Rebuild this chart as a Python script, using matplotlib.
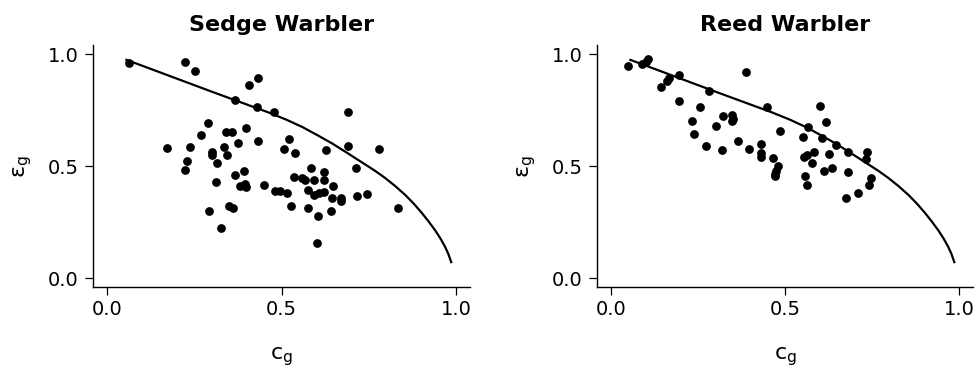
import matplotlib
matplotlib.use("Agg")
import matplotlib.pyplot as plt

plt.rcParams['font.family'] = ['DejaVu Sans']
plt.rcParams['mathtext.fontset'] = 'dejavusans'
plt.rcParams['mathtext.default'] = 'regular'

# Sedge warbler: (c_g, eps_g) per bird
sedge_c = [0.061, 0.224, 0.251, 0.431, 0.405, 0.366, 0.428, 0.479, 0.290, 0.341,
           0.358, 0.399, 0.270, 0.431, 0.374, 0.520, 0.506, 0.172, 0.238, 0.300,
           0.300, 0.336, 0.343, 0.228, 0.223, 0.314, 0.393, 0.365, 0.312, 0.381,
           0.394, 0.398, 0.450, 0.482, 0.494, 0.515, 0.527, 0.350, 0.360, 0.293,
           0.327, 0.690, 0.691, 0.780, 0.627, 0.539, 0.712, 0.584, 0.620, 0.534,
           0.557, 0.568, 0.594, 0.620, 0.648, 0.575, 0.592, 0.606, 0.621, 0.645,
           0.669, 0.671, 0.716, 0.746, 0.575, 0.603, 0.641, 0.834, 0.601]
sedge_eps = [0.960, 0.963, 0.924, 0.891, 0.863, 0.795, 0.764, 0.742, 0.691, 0.652,
             0.652, 0.672, 0.639, 0.612, 0.604, 0.619, 0.575, 0.582, 0.587, 0.563,
             0.552, 0.585, 0.548, 0.522, 0.482, 0.512, 0.477, 0.460, 0.431, 0.413,
             0.422, 0.406, 0.418, 0.388, 0.388, 0.381, 0.324, 0.324, 0.313, 0.298,
             0.224, 0.742, 0.592, 0.578, 0.571, 0.560, 0.491, 0.490, 0.476, 0.451,
             0.448, 0.437, 0.437, 0.437, 0.410, 0.395, 0.372, 0.381, 0.386, 0.358,
             0.358, 0.346, 0.369, 0.376, 0.313, 0.279, 0.298, 0.312, 0.159]

# Reed warbler
reed_c = [0.047, 0.088, 0.099, 0.107, 0.195, 0.167, 0.161, 0.144, 0.388, 0.280,
          0.196, 0.255, 0.448, 0.233, 0.322, 0.346, 0.346, 0.351, 0.300, 0.239,
          0.486, 0.363, 0.272, 0.318, 0.396, 0.430, 0.430, 0.430, 0.466, 0.478,
          0.473, 0.471, 0.471, 0.600, 0.616, 0.566, 0.550, 0.605, 0.645, 0.680,
          0.735, 0.733, 0.584, 0.564, 0.555, 0.627, 0.578, 0.635, 0.612, 0.680,
          0.558, 0.562, 0.746, 0.741, 0.709, 0.675]
reed_eps = [0.945, 0.955, 0.966, 0.978, 0.907, 0.891, 0.880, 0.855, 0.918, 0.836,
            0.791, 0.766, 0.766, 0.701, 0.724, 0.727, 0.701, 0.709, 0.679, 0.642,
            0.657, 0.612, 0.592, 0.570, 0.578, 0.600, 0.560, 0.540, 0.537, 0.500,
            0.477, 0.455, 0.467, 0.768, 0.695, 0.676, 0.631, 0.625, 0.596, 0.561,
            0.564, 0.530, 0.561, 0.551, 0.542, 0.554, 0.516, 0.494, 0.477, 0.473,
            0.455, 0.418, 0.448, 0.418, 0.381, 0.357]

# boundary curve (same for both species)
bound_c = [0.055, 0.10, 0.20, 0.30, 0.40, 0.46, 0.514, 0.56, 0.605, 0.645,
           0.681, 0.71, 0.739, 0.768, 0.796, 0.825, 0.854, 0.878, 0.901, 0.921,
           0.94, 0.955, 0.968, 0.978, 0.986]
bound_eps = [0.974, 0.948, 0.89, 0.832, 0.775, 0.741, 0.707, 0.674, 0.636, 0.601,
             0.566, 0.537, 0.508, 0.479, 0.448, 0.412, 0.372, 0.334, 0.293, 0.254,
             0.214, 0.178, 0.142, 0.108, 0.072]

ticks = [0.0, 0.5, 1.0]
tick_labels = ["0.0", "0.5", "1.0"]

fig = plt.figure(figsize=(9.77, 3.67), dpi=100)
ax1 = fig.add_axes([0.0955, 0.2172, 0.3856, 0.660])
ax2 = fig.add_axes([0.6114, 0.2172, 0.3846, 0.660])

for ax, title, xs, ys in [(ax1, "Sedge Warbler", sedge_c, sedge_eps),
                          (ax2, "Reed Warbler", reed_c, reed_eps)]:
    ax.plot(xs, ys, 'o', color='black', markersize=6.3, markeredgewidth=0)
    ax.plot(bound_c, bound_eps, '-', color='black', linewidth=1.6,
            solid_joinstyle='round')
    ax.set_xlim(-0.04, 1.04)
    ax.set_ylim(-0.04, 1.04)
    ax.set_xticks(ticks)
    ax.set_xticklabels(tick_labels)
    ax.set_yticks(ticks)
    ax.set_yticklabels(tick_labels)
    ax.tick_params(direction='out', length=5.5, width=0.9, labelsize=14, color='black')
    ax.tick_params(axis='x', pad=3.5)
    ax.tick_params(axis='y', pad=5)
    for s in ['top', 'right']:
        ax.spines[s].set_visible(False)
    for s in ['left', 'bottom']:
        ax.spines[s].set_linewidth(1.0)
    ax.set_title(title, fontsize=16, fontweight='bold', pad=10)
    ax.text(0.5, -0.285, r'$c_g$', transform=ax.transAxes, fontsize=16,
            ha='center', va='center')
    ax.text(-0.189, 0.5, r'$ε_g$', transform=ax.transAxes, fontsize=16,
            ha='center', va='center', rotation=90)

fig.savefig("out.png", dpi=100)
